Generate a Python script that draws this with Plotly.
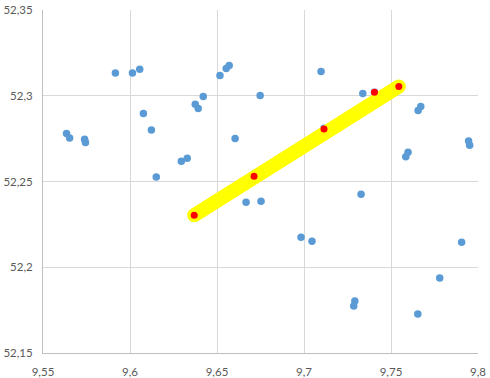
import plotly.graph_objects as go

blue_x = [9.5635, 9.5653, 9.5739, 9.5744, 9.5916, 9.6014, 9.6056, 9.6077, 9.6123, 9.6151,
          9.6295, 9.6329, 9.6375, 9.6392, 9.6421, 9.6517, 9.6553, 9.6570, 9.6604, 9.6748,
          9.7098, 9.7338, 9.7405, 9.7115, 9.7656, 9.7671, 9.7946, 9.7952, 9.7585, 9.7598,
          9.6667, 9.6753, 9.7328, 9.6983, 9.7046, 9.7906, 9.7780, 9.7292, 9.7286, 9.7654]
blue_y = [52.2780, 52.2753, 52.2746, 52.2728, 52.3132, 52.3132, 52.3155, 52.2897, 52.2800, 52.2526,
          52.2618, 52.2635, 52.2951, 52.2926, 52.2996, 52.3118, 52.3159, 52.3176, 52.2751, 52.3002,
          52.3141, 52.3013, 52.3021, 52.2810, 52.2914, 52.2938, 52.2736, 52.2711, 52.2644, 52.2670,
          52.2379, 52.2385, 52.2425, 52.2175, 52.2152, 52.2146, 52.1937, 52.1803, 52.1774, 52.1727]

red_x = [9.6369, 9.6713, 9.7115, 9.7405, 9.7545]
red_y = [52.2303, 52.2530, 52.2806, 52.3021, 52.3054]

fig = go.Figure()
fig.add_trace(go.Scatter(x=blue_x, y=blue_y, mode="markers",
                         marker=dict(color="#5B9BD5", size=7.5, line=dict(width=0)),
                         showlegend=False))
fig.add_trace(go.Scatter(x=[red_x[0], red_x[-1]], y=[red_y[0], red_y[-1]], mode="lines+markers",
                         line=dict(color="#FFFF00", width=14),
                         marker=dict(color="#FFFF00", size=14, line=dict(width=0)),
                         showlegend=False))
fig.add_trace(go.Scatter(x=red_x, y=red_y, mode="markers",
                         marker=dict(color="#FF0000", size=7, symbol="circle", line=dict(width=0)),
                         showlegend=False))

axis_common = dict(dtick=0.05, showgrid=True, gridcolor="#D9D9D9", gridwidth=1,
                   zeroline=False, showline=True, linecolor="#BFBFBF", linewidth=1,
                   ticks="", automargin=False,
                   tickfont=dict(family="Lato", size=11.5, color="#595959"))
fig.update_xaxes(range=[9.55, 9.8], tick0=9.55, ticklabelstandoff=8, **axis_common)
fig.update_yaxes(range=[52.15, 52.35], tick0=52.15, ticklabelstandoff=7, **axis_common)

fig.update_layout(width=490, height=378, separators=",.",
                  margin=dict(l=43, r=11.5, t=9.5, b=24.7),
                  plot_bgcolor="white", paper_bgcolor="white")
fig.write_html("out.html")
